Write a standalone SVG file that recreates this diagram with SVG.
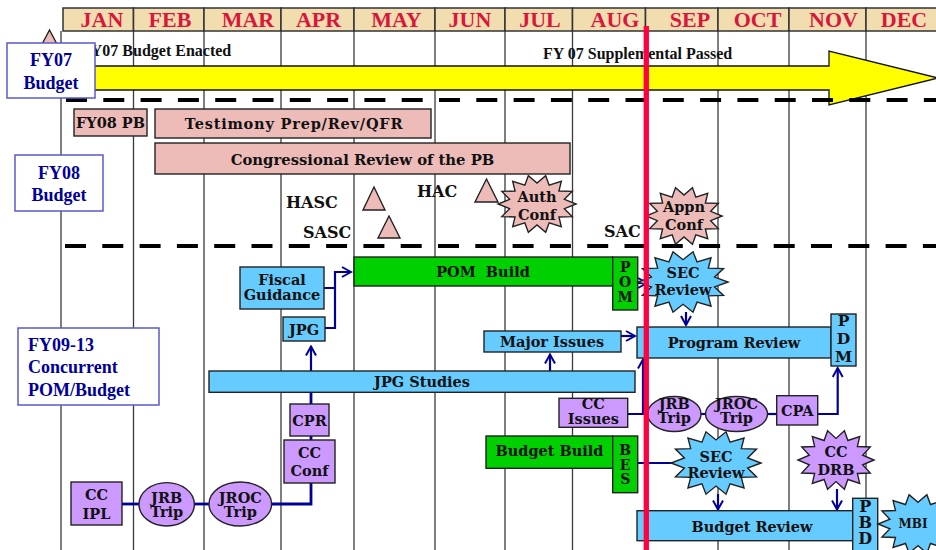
<svg xmlns="http://www.w3.org/2000/svg" width="936" height="550" viewBox="0 0 936 550">
  <style>
    .hdr{fill:#F2DDB1;stroke:#333;stroke-width:1.5}
    .mon{font:bold 22px "Liberation Serif",serif;fill:#D8173C;text-anchor:middle}
    .grid{stroke:#3a3a3a;stroke-width:1.3}
    .dash{stroke:#000;stroke-width:4;stroke-dasharray:21 16.3;fill:none}
    .lbl rect{fill:#fff;stroke:#5a5acf;stroke-width:1.5}
    .lbl text{font:bold 18px "Liberation Serif",serif;fill:#000099}
    .c{text-anchor:middle}
    .note{font:bold 16px "Liberation Serif",serif;fill:#111}
    .cmt{font:bold 16px "DejaVu Serif",serif;fill:#111}
    .t{font:bold 14.5px "DejaVu Serif",serif;fill:#111;text-anchor:middle}
    .v{font:bold 14px "DejaVu Serif",serif;fill:#111;text-anchor:middle}
    .pink{fill:#EDBCB9;stroke:#222;stroke-width:1.4}
    .blue{fill:#66CCFF;stroke:#222;stroke-width:1.4}
    .green{fill:#00CF00;stroke:#222;stroke-width:1.4}
    .purple{fill:#CC99FF;stroke:#222;stroke-width:1.4}
    .con{fill:none;stroke:#000099;stroke-width:2.2}
    .thick{stroke-width:2.8}
    .arr{marker-end:url(#ah)}
  </style>
  <defs>
    <marker id="ah" viewBox="0 0 12 12" refX="10" refY="6" markerWidth="12" markerHeight="12" markerUnits="userSpaceOnUse" orient="auto">
      <path d="M1,1 L10,6 L1,11" fill="none" stroke="#000099" stroke-width="2"/>
    </marker>
    <!-- unit starburst, scaled per node -->
    <polygon id="burst" vector-effect="non-scaling-stroke" points="1,0 .702,.16 .901,.434 .563,.449 .623,.782 .312,.649 .222,.975 0,.72 -.222,.975 -.312,.649 -.623,.782 -.563,.449 -.901,.434 -.702,.16 -1,0 -.702,-.16 -.901,-.434 -.563,-.449 -.623,-.782 -.312,-.649 -.222,-.975 0,-.72 .222,-.975 .312,-.649 .623,-.782 .563,-.449 .901,-.434 .702,-.16"/>
  </defs>

  <!-- month header -->
  <g id="months">
    <rect class="hdr" x="63" y="8" width="70.5" height="23"/>
    <rect class="hdr" x="133.5" y="8" width="70.5" height="23"/>
    <rect class="hdr" x="204" y="8" width="77" height="23"/>
    <rect class="hdr" x="281" y="8" width="73" height="23"/>
    <rect class="hdr" x="354" y="8" width="81" height="23"/>
    <rect class="hdr" x="435" y="8" width="70" height="23"/>
    <rect class="hdr" x="505" y="8" width="67.5" height="23"/>
    <rect class="hdr" x="572.5" y="8" width="73" height="23"/>
    <rect class="hdr" x="645.5" y="8" width="72.5" height="23"/>
    <rect class="hdr" x="718" y="8" width="71" height="23"/>
    <rect class="hdr" x="789" y="8" width="77" height="23"/>
    <rect class="hdr" x="866" y="8" width="80" height="23"/>
    <text class="mon" x="102" y="27">JAN</text>
    <text class="mon" x="170" y="27">FEB</text>
    <text class="mon" x="248" y="27">MAR</text>
    <text class="mon" x="318.5" y="27">APR</text>
    <text class="mon" x="396.5" y="27">MAY</text>
    <text class="mon" x="470" y="27">JUN</text>
    <text class="mon" x="540" y="27">JUL</text>
    <text class="mon" x="615" y="27">AUG</text>
    <text class="mon" x="690" y="27">SEP</text>
    <text class="mon" x="757.5" y="27">OCT</text>
    <text class="mon" x="833.5" y="27">NOV</text>
    <text class="mon" x="904" y="27">DEC</text>
  </g>

  <!-- month grid -->
  <g id="grid" class="grid">
    <line x1="61" y1="31" x2="61" y2="550"/>
    <line x1="133.5" y1="31" x2="133.5" y2="550"/>
    <line x1="204" y1="31" x2="204" y2="550"/>
    <line x1="281" y1="31" x2="281" y2="550"/>
    <line x1="354" y1="31" x2="354" y2="550"/>
    <line x1="435" y1="31" x2="435" y2="550"/>
    <line x1="505" y1="31" x2="505" y2="550"/>
    <line x1="572.5" y1="31" x2="572.5" y2="550"/>
    <line x1="645.5" y1="31" x2="645.5" y2="550"/>
    <line x1="718" y1="31" x2="718" y2="550"/>
    <line x1="789" y1="31" x2="789" y2="550"/>
    <line x1="866" y1="31" x2="866" y2="550"/>
  </g>

  <!-- FY07 row -->
  <g id="fy07-row">
    <text class="note" x="81" y="55.5">FY07 Budget Enacted</text>
    <text class="note" x="543" y="58.5">FY 07 Supplemental Passed</text>
    <path d="M63,66 H829 V51 L938,78 L829,105 V90 H63 Z" fill="#FFFF00" stroke="#111" stroke-width="1.3"/>
    <polygon points="49.5,30 40,48 59,48" class="pink"/>
  </g>

  <!-- section separators -->
  <g id="separators">
    <line class="dash" x1="66" y1="100" x2="940" y2="100"/>
    <line class="dash" x1="65" y1="246" x2="940" y2="246"/>
  </g>

  <!-- section labels -->
  <g id="label-fy07" class="lbl">
    <rect x="7" y="43" width="88" height="55"/>
    <text class="c"><tspan x="51" y="66">FY07</tspan><tspan x="51" y="89">Budget</tspan></text>
  </g>
  <g id="label-fy08" class="lbl">
    <rect x="15" y="155" width="88" height="56"/>
    <text class="c"><tspan x="59" y="179">FY08</tspan><tspan x="59" y="200.5">Budget</tspan></text>
  </g>
  <g id="label-fy09" class="lbl">
    <rect x="18" y="328" width="141" height="77"/>
    <text><tspan x="28" y="350.5">FY09-13</tspan><tspan x="28" y="373">Concurrent</tspan><tspan x="28" y="395.5">POM/Budget</tspan></text>
  </g>

  <!-- FY08 budget activities -->
  <g id="fy08-pb">
    <rect class="pink" x="74" y="109" width="73" height="27"/>
    <text class="t" x="110.5" y="127.5">FY08 PB</text>
  </g>
  <g id="testimony">
    <rect class="pink" x="155" y="109" width="276" height="29"/>
    <text class="t" x="294" y="128.5" letter-spacing="0.8">Testimony Prep/Rev/QFR</text>
  </g>
  <g id="cong-review">
    <rect class="pink" x="155" y="143" width="415" height="31"/>
    <text class="t" x="362.5" y="164.5" style="font-size:14.8px">Congressional Review of the PB</text>
  </g>
  <g id="hasc">
    <text class="cmt" x="286" y="208">HASC</text>
    <polygon class="pink" points="374,187 363,210 385,210"/>
  </g>
  <g id="sasc">
    <text class="cmt" x="303" y="238">SASC</text>
    <polygon class="pink" points="389,216 378,238 400,238"/>
  </g>
  <g id="hac">
    <text class="cmt" x="417" y="197">HAC</text>
    <polygon class="pink" points="486.5,179 475,202 498,202"/>
  </g>
  <g id="sac">
    <text class="cmt" x="604" y="237">SAC</text>
  </g>
  <g id="auth-conf">
    <use href="#burst" class="pink" transform="translate(537,204) scale(39,29)"/>
    <text class="t"><tspan x="537" y="201.5">Auth</tspan><tspan x="537" y="220">Conf</tspan></text>
  </g>
  <g id="appn-conf">
    <use href="#burst" class="pink" transform="translate(684,216) scale(38,29)"/>
    <text class="t"><tspan x="684" y="212">Appn</tspan><tspan x="684" y="230">Conf</tspan></text>
  </g>

  <!-- FY09-13 connectors -->
  <g id="connectors">
    <path class="con thick" d="M122,504 H139"/>
    <path class="con thick" d="M194.4,504 H209"/>
    <path class="con thick" d="M271.6,504 H311 V483"/>
    <path class="con thick" d="M311,440 V436"/>
    <path class="con thick" d="M311,404 V392"/>
    <path class="con arr" d="M311,371 V346.5"/>
    <path class="con arr" d="M324,288 H335 M325,328 H335 V272 H351"/>
    <path class="con arr" d="M637.7,283 H647"/>
    <path class="con arr" d="M686,312 V325"/>
    <path class="con arr" d="M621,336 H635"/>
    <path class="con arr" d="M550,371 V354.5"/>
    <path class="con arr" d="M627.7,414 H643 V359.5"/>
    <path class="con" d="M700,414 H706"/>
    <path class="con" d="M767,414 H777"/>
    <path class="con arr" d="M817.7,414 H837.7 V368"/>
    <path class="con" d="M637.7,463 H676"/>
    <path class="con arr" d="M718,494 V509.5"/>
    <path class="con arr" d="M837,489 V509.5"/>
  </g>

  <!-- FY09-13 POM / budget nodes -->
  <g id="fiscal-guidance">
    <rect class="blue" x="240" y="267" width="84" height="42"/>
    <text class="t"><tspan x="282" y="285">Fiscal</tspan><tspan x="282" y="299.5">Guidance</tspan></text>
  </g>
  <g id="jpg">
    <rect class="blue" x="283" y="317" width="42" height="24"/>
    <text class="t" x="304" y="335">JPG</text>
  </g>
  <g id="pom-build">
    <rect class="green" x="354" y="257" width="258.7" height="29"/>
    <text class="t" x="483" y="277" word-spacing="5">POM Build</text>
  </g>
  <g id="pom">
    <rect class="green" x="612.7" y="257" width="25" height="53"/>
    <text class="v"><tspan x="625.2" y="272">P</tspan><tspan x="625.2" y="287">O</tspan><tspan x="625.2" y="302">M</tspan></text>
  </g>
  <g id="sec-review-1">
    <use href="#burst" class="blue" transform="translate(683,282) scale(45,31)"/>
    <text class="t"><tspan x="683" y="278">SEC</tspan><tspan x="683" y="295">Review</tspan></text>
  </g>
  <g id="jpg-studies">
    <rect class="blue" x="209" y="371" width="426" height="21.3"/>
    <text class="t" x="422" y="387">JPG Studies</text>
  </g>
  <g id="major-issues">
    <rect class="blue" x="484" y="331" width="137" height="21"/>
    <text class="t" x="552" y="346.5">Major Issues</text>
  </g>
  <g id="program-review">
    <rect class="blue" x="637" y="327" width="194" height="31"/>
    <text class="t" x="734" y="348">Program Review</text>
  </g>
  <g id="pdm">
    <rect class="blue" x="831" y="314" width="25" height="52"/>
    <text class="v" style="font-size:15.5px"><tspan x="843.5" y="326">P</tspan><tspan x="843.5" y="343.5">D</tspan><tspan x="843.5" y="361.5">M</tspan></text>
  </g>
  <g id="cpr">
    <rect class="purple" x="290" y="404" width="39" height="32"/>
    <text class="t" x="309.5" y="426">CPR</text>
  </g>
  <g id="cc-conf">
    <rect class="purple" x="284" y="440" width="51" height="43"/>
    <text class="t"><tspan x="309.5" y="457.5">CC</tspan><tspan x="309.5" y="476">Conf</tspan></text>
  </g>
  <g id="cc-ipl">
    <rect class="purple" x="71" y="482" width="51" height="43"/>
    <text class="t"><tspan x="96.5" y="499.5">CC</tspan><tspan x="96.5" y="518.5">IPL</tspan></text>
  </g>
  <g id="jrb-trip-1">
    <ellipse class="purple" cx="166.7" cy="504.3" rx="27.7" ry="21.7"/>
    <text class="t"><tspan x="166.7" y="503">JRB</tspan><tspan x="166.7" y="516.5">Trip</tspan></text>
  </g>
  <g id="jroc-trip-1">
    <ellipse class="purple" cx="240.3" cy="504" rx="31.3" ry="22"/>
    <text class="t"><tspan x="240.3" y="503">JROC</tspan><tspan x="240.3" y="516.5">Trip</tspan></text>
  </g>
  <g id="cc-issues">
    <rect class="purple" x="559" y="398.3" width="68.7" height="29"/>
    <text class="t"><tspan x="593.3" y="409">CC</tspan><tspan x="593.3" y="424">Issues</tspan></text>
  </g>
  <g id="jrb-trip-2">
    <ellipse class="purple" cx="674.3" cy="414" rx="26.7" ry="17.5"/>
    <text class="t"><tspan x="674.3" y="408.5">JRB</tspan><tspan x="674.3" y="423">Trip</tspan></text>
  </g>
  <g id="jroc-trip-2">
    <ellipse class="purple" cx="736.5" cy="414" rx="31" ry="17.5"/>
    <text class="t"><tspan x="736.5" y="408.5">JROC</tspan><tspan x="736.5" y="423">Trip</tspan></text>
  </g>
  <g id="cpa">
    <rect class="purple" x="776.7" y="395.7" width="41" height="29.3"/>
    <text class="t" x="797.2" y="416">CPA</text>
  </g>
  <g id="budget-build">
    <rect class="green" x="486" y="436" width="126.7" height="32.3"/>
    <text class="t" x="549.5" y="455.5">Budget Build</text>
  </g>
  <g id="bes">
    <rect class="green" x="612.7" y="436" width="25" height="56.7"/>
    <text class="v"><tspan x="625.2" y="455">B</tspan><tspan x="625.2" y="469.5">E</tspan><tspan x="625.2" y="484">S</tspan></text>
  </g>
  <g id="sec-review-2">
    <use href="#burst" class="blue" transform="translate(716,463) scale(45,32)"/>
    <text class="t"><tspan x="716" y="461.5">SEC</tspan><tspan x="716" y="478">Review</tspan></text>
  </g>
  <g id="cc-drb">
    <use href="#burst" class="purple" transform="translate(836,460) scale(38,30)"/>
    <text class="t"><tspan x="836" y="456.5">CC</tspan><tspan x="836" y="475">DRB</tspan></text>
  </g>
  <g id="budget-review">
    <rect class="blue" x="637" y="510.7" width="215.7" height="30"/>
    <text class="t" x="752" y="532">Budget Review</text>
  </g>
  <g id="pbd">
    <rect class="blue" x="852.7" y="498.3" width="25" height="56"/>
    <text class="v" style="font-size:16px"><tspan x="865.2" y="511.5">P</tspan><tspan x="865.2" y="527.5">B</tspan><tspan x="865.2" y="544">D</tspan></text>
  </g>
  <g id="mbi">
    <use href="#burst" class="blue" transform="translate(918,524) scale(40,30)"/>
    <text class="t" x="913" y="528" style="font-size:12px">MBI</text>
  </g>

  <!-- current date marker -->
  <line id="today" x1="646.3" y1="26" x2="646.3" y2="550" stroke="#FF0040" stroke-width="5.3"/>
</svg>
